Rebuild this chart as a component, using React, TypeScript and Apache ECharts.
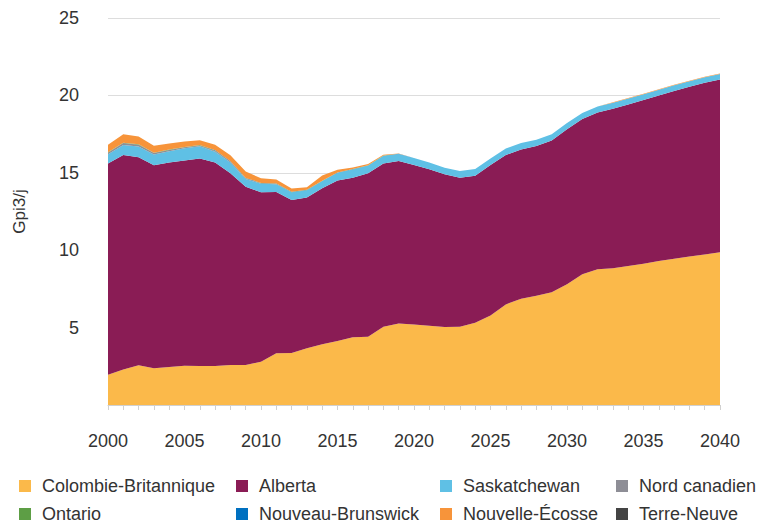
import React, { useEffect, useRef } from "react";
import * as echarts from "echarts";

const years: string[] = [];
for (let y = 2000; y <= 2040; y++) years.push(String(y));

const colombieBritannique = [1.95, 2.3, 2.56, 2.37, 2.45, 2.54, 2.52, 2.52, 2.58, 2.58, 2.8, 3.34, 3.36, 3.66, 3.92, 4.13, 4.37, 4.41, 5.06, 5.27, 5.2, 5.12, 5.04, 5.06, 5.32, 5.78, 6.5, 6.87, 7.06, 7.28, 7.8, 8.44, 8.77, 8.83, 8.98, 9.13, 9.3, 9.45, 9.6, 9.73, 9.86];
const alberta = [13.65, 13.85, 13.44, 13.11, 13.22, 13.26, 13.41, 13.15, 12.39, 11.52, 10.95, 10.42, 9.88, 9.75, 10.08, 10.37, 10.31, 10.56, 10.54, 10.49, 10.3, 10.11, 9.86, 9.62, 9.49, 9.72, 9.65, 9.63, 9.67, 9.8, 10.01, 10.03, 10.13, 10.31, 10.44, 10.57, 10.7, 10.83, 10.96, 11.09, 11.17];
const saskatchewan = [0.6, 0.65, 0.7, 0.7, 0.73, 0.78, 0.78, 0.69, 0.7, 0.5, 0.54, 0.5, 0.5, 0.47, 0.47, 0.5, 0.54, 0.5, 0.5, 0.45, 0.45, 0.44, 0.43, 0.43, 0.43, 0.43, 0.42, 0.42, 0.41, 0.41, 0.4, 0.4, 0.39, 0.39, 0.38, 0.38, 0.37, 0.37, 0.36, 0.36, 0.35];
const nordCanadien = [0.1, 0.12, 0.12, 0.1, 0.08, 0.07, 0.06, 0.05, 0.04, 0.03, 0.02, 0.02, 0.01, 0, 0, 0, 0, 0, 0, 0, 0, 0, 0, 0, 0, 0, 0, 0, 0, 0, 0, 0, 0, 0, 0, 0, 0, 0, 0, 0, 0];
const ontario = [0.02, 0.02, 0.02, 0.02, 0.02, 0.02, 0.02, 0.02, 0.01, 0.01, 0.01, 0.01, 0.01, 0.01, 0.01, 0.01, 0.01, 0.01, 0.01, 0.01, 0, 0, 0, 0, 0, 0, 0, 0, 0, 0, 0, 0, 0, 0, 0, 0, 0, 0, 0, 0, 0];
const nouveauBrunswick = [0, 0, 0, 0, 0, 0, 0, 0.02, 0.03, 0.03, 0.02, 0.02, 0.02, 0.01, 0.01, 0.01, 0.01, 0.01, 0.01, 0.01, 0, 0, 0, 0, 0, 0, 0, 0, 0, 0, 0, 0, 0, 0, 0, 0, 0, 0, 0, 0, 0];
const nouvelleEcosse = [0.5, 0.55, 0.5, 0.45, 0.4, 0.35, 0.32, 0.36, 0.38, 0.42, 0.3, 0.25, 0.2, 0.17, 0.33, 0.17, 0.1, 0.08, 0.04, 0.02, 0, 0, 0, 0, 0, 0, 0, 0, 0, 0, 0, 0, 0, 0.03, 0.03, 0.03, 0.03, 0.03, 0.03, 0.03, 0.03];
const terreNeuve = [0, 0, 0, 0, 0, 0, 0, 0, 0, 0, 0, 0, 0, 0, 0, 0, 0, 0, 0, 0, 0, 0, 0, 0, 0, 0, 0, 0, 0, 0, 0, 0, 0, 0, 0, 0, 0, 0, 0, 0, 0];

const seriesDefs = [
  { name: "Colombie-Britannique", data: colombieBritannique, color: "#FBB94A" },
  { name: "Alberta", data: alberta, color: "#8A1C55" },
  { name: "Saskatchewan", data: saskatchewan, color: "#5FC0E5" },
  { name: "Nord canadien", data: nordCanadien, color: "#8E8E96" },
  { name: "Ontario", data: ontario, color: "#5D9E45" },
  { name: "Nouveau-Brunswick", data: nouveauBrunswick, color: "#0070C0" },
  { name: "Nouvelle-Écosse", data: nouvelleEcosse, color: "#F7943A" },
  { name: "Terre-Neuve", data: terreNeuve, color: "#444444" },
];

const legendCells = [
  { left: 19, row: 0, name: "Colombie-Britannique" },
  { left: 236, row: 0, name: "Alberta" },
  { left: 440, row: 0, name: "Saskatchewan" },
  { left: 616, row: 0, name: "Nord canadien" },
  { left: 19, row: 1, name: "Ontario" },
  { left: 236, row: 1, name: "Nouveau-Brunswick" },
  { left: 440, row: 1, name: "Nouvelle-Écosse" },
  { left: 616, row: 1, name: "Terre-Neuve" },
];

const FONT = "'Liberation Sans', Arial, sans-serif";

export default function App() {
  const ref = useRef<HTMLDivElement>(null);
  useEffect(() => {
    if (!ref.current) return;
    const chart = echarts.init(ref.current, null, { renderer: "svg" });
    chart.setOption({
      animation: false,
      textStyle: { fontFamily: FONT },
      grid: { left: 108, right: 55, top: 18, bottom: 124, containLabel: false },
      legend: legendCells.map((c) => ({
        orient: "horizontal",
        left: c.left,
        top: 477 + c.row * 28,
        padding: 0,
        itemWidth: 12,
        itemHeight: 12,
        icon: "rect",
        data: [c.name],
        selectedMode: false,
        textStyle: { fontSize: 18, color: "#333", fontFamily: FONT, padding: [0, 0, 0, 6] },
      })),
      xAxis: {
        type: "category",
        data: years,
        boundaryGap: false,
        axisLine: { lineStyle: { color: "#d0d0d0" } },
        axisTick: { show: true, interval: 0, length: 5, lineStyle: { color: "#d0d0d0" } },
        axisLabel: { interval: 4, margin: 27, fontSize: 18, color: "#333", fontFamily: FONT },
        splitLine: { show: false },
      },
      yAxis: {
        type: "value",
        min: 0,
        max: 25,
        interval: 5,
        name: "Gpi3/j",
        nameLocation: "middle",
        nameGap: 80,
        nameTextStyle: { fontSize: 17, color: "#333", fontFamily: FONT },
        axisLine: { show: false },
        axisTick: { show: false },
        axisLabel: {
          margin: 29,
          fontSize: 18,
          color: "#333",
          fontFamily: FONT,
          formatter: (v: number) => (v === 0 ? "" : String(v)),
        },
        splitLine: { lineStyle: { color: "#dddddd" } },
      },
      series: seriesDefs.map((s) => ({
        name: s.name,
        type: "line",
        stack: "total",
        data: s.data,
        showSymbol: false,
        symbol: "none",
        lineStyle: { width: 0 },
        areaStyle: { color: s.color, opacity: 1 },
        itemStyle: { color: s.color },
        emphasis: { disabled: true },
      })),
    });
    return () => chart.dispose();
  }, []);
  return <div ref={ref} style={{ width: 775, height: 529, position: "absolute", left: 0, top: 0 }} />;
}
